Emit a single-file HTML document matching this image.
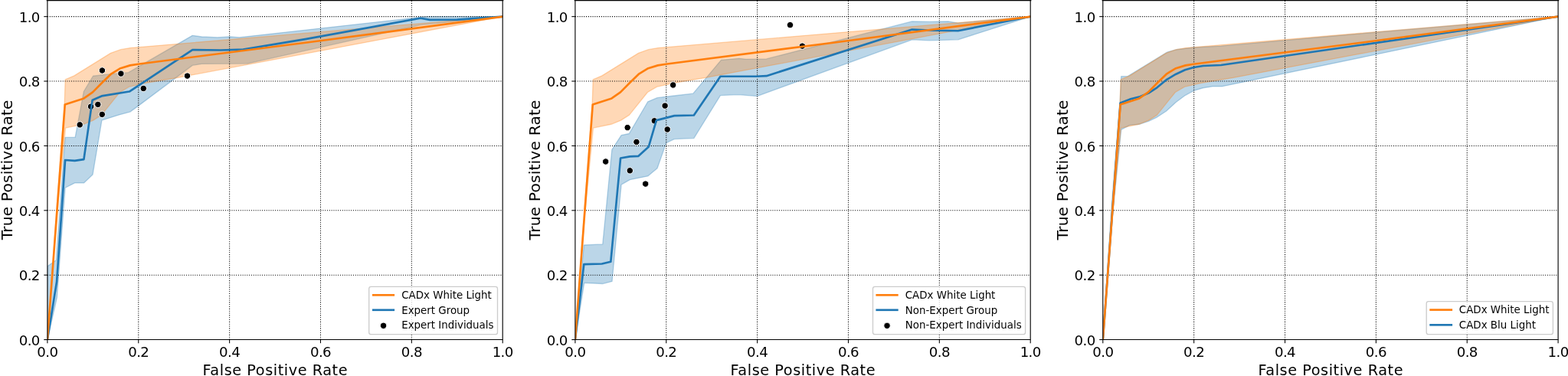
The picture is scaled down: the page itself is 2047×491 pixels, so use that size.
<!DOCTYPE html>
<html><head><meta charset="utf-8"><title>ROC curves</title>
<style>html,body{margin:0;padding:0;background:#fff;width:2047px;height:491px;overflow:hidden}svg{display:block}</style>
</head><body>
<svg width="2047" height="491" viewBox="0 0 2047 491" font-family="'DejaVu Sans', 'Liberation Sans', sans-serif" fill="#000">
<rect width="2047" height="491" fill="#fff"/>
<clipPath id="c0"><rect x="61.9" y="0.85" width="594.3" height="442.7"/></clipPath>
<g clip-path="url(#c0)"><polygon points="61.9,347.78 73.19,339.76 85.08,179.44 98.15,179.44 109.33,119.53 121.51,99.28 139.75,97.17 167.69,94.64 251.24,46.33 263.37,48.02 283.87,48.82 300.21,48.02 312.4,48.82 549.23,22.49 561.11,21.65 656.2,21.65 656.2,21.65 549.23,32.62 322.56,83.04 263.37,83.46 251.24,85.36 181.06,137.88 169.82,146.11 155.56,149.91 139.75,154.97 132.92,157.08 121.03,227.96 109.44,238.93 97.56,238.93 85.08,245.26 74.38,388.7 61.9,443.55" fill="#1f77b4" fill-opacity="0.3" stroke="#1f77b4" stroke-opacity="0.3" stroke-width="1.33" stroke-linejoin="round"/><polygon points="61.9,443.55 73.79,274.79 84.19,136.41 85.2,103.92 96.96,98.86 144.51,69.32 157.58,64.68 169.82,62.57 656.2,21.65 656.2,21.65 232.29,101.39 189.5,108.52 168.58,113.37 156.39,120.46 132.62,150.08 121.63,157.16 108.91,162.27 85.49,167.04 73.79,287.45 61.9,443.55" fill="#ff7f0e" fill-opacity="0.3" stroke="#ff7f0e" stroke-opacity="0.3" stroke-width="1.33" stroke-linejoin="round"/><g stroke="#000" stroke-width="1.07" stroke-dasharray="1.07 1.76"><line x1="180.76" y1="443.55" x2="180.76" y2="0.85"/><line x1="61.9" y1="359.17" x2="656.2" y2="359.17"/><line x1="299.62" y1="443.55" x2="299.62" y2="0.85"/><line x1="61.9" y1="274.79" x2="656.2" y2="274.79"/><line x1="418.48" y1="443.55" x2="418.48" y2="0.85"/><line x1="61.9" y1="190.41" x2="656.2" y2="190.41"/><line x1="537.34" y1="443.55" x2="537.34" y2="0.85"/><line x1="61.9" y1="106.03" x2="656.2" y2="106.03"/><line x1="61.9" y1="21.65" x2="656.2" y2="21.65"/></g><circle cx="104.2" cy="162.9" r="4.2" fill="#000" stroke="#fff" stroke-width="1"/><circle cx="118.6" cy="139.2" r="4.2" fill="#000" stroke="#fff" stroke-width="1"/><circle cx="127.8" cy="136.4" r="4.2" fill="#000" stroke="#fff" stroke-width="1"/><circle cx="133.3" cy="149.4" r="4.2" fill="#000" stroke="#fff" stroke-width="1"/><circle cx="133.4" cy="92" r="4.2" fill="#000" stroke="#fff" stroke-width="1"/><circle cx="157.9" cy="96.1" r="4.2" fill="#000" stroke="#fff" stroke-width="1"/><circle cx="187.3" cy="115.5" r="4.2" fill="#000" stroke="#fff" stroke-width="1"/><circle cx="244.5" cy="99.1" r="4.2" fill="#000" stroke="#fff" stroke-width="1"/><polyline points="61.9,443.55 74.08,367.61 85.08,208.97 97.56,209.82 109.44,208.13 120.62,130.67 132.62,125.44 168.87,119.53 251.24,65.11 287.73,65.53 317.45,64.68 400,50.93 548.87,23.76 561.11,25.87 596.95,25.62 656.2,21.65" fill="none" stroke="#1f77b4" stroke-width="2.67" stroke-linejoin="round" stroke-linecap="square"/><polyline points="61.9,443.55 84.78,136.41 108.85,128.81 121.03,120.37 133.51,107.72 145.4,96.33 156.39,89.58 169.77,85.36 182.01,83.46 400.65,55.53 656.2,21.65" fill="none" stroke="#ff7f0e" stroke-width="2.67" stroke-linejoin="round" stroke-linecap="square"/></g>
<path d="M61.9,0V443.55H656.2V0" fill="none" stroke="#000" stroke-width="1.12" stroke-linecap="square" stroke-linejoin="miter"/>
<line x1="61.6" y1="0.35" x2="656.5" y2="0.35" stroke="#000" stroke-width="1.7" stroke-linecap="square"/>
<g stroke="#000" stroke-width="1.07"><line x1="61.9" y1="443.55" x2="61.9" y2="448.15"/><line x1="57.3" y1="443.55" x2="61.9" y2="443.55"/><line x1="180.76" y1="443.55" x2="180.76" y2="448.15"/><line x1="57.3" y1="359.17" x2="61.9" y2="359.17"/><line x1="299.62" y1="443.55" x2="299.62" y2="448.15"/><line x1="57.3" y1="274.79" x2="61.9" y2="274.79"/><line x1="418.48" y1="443.55" x2="418.48" y2="448.15"/><line x1="57.3" y1="190.41" x2="61.9" y2="190.41"/><line x1="537.34" y1="443.55" x2="537.34" y2="448.15"/><line x1="57.3" y1="106.03" x2="61.9" y2="106.03"/><line x1="656.2" y1="443.55" x2="656.2" y2="448.15"/><line x1="57.3" y1="21.65" x2="61.9" y2="21.65"/></g>
<g font-size="18.2" letter-spacing="-0.6"><text x="61.9" y="465.9" text-anchor="middle">0.0</text><text x="51.8" y="450.65" text-anchor="end">0.0</text><text x="180.76" y="465.9" text-anchor="middle">0.2</text><text x="51.8" y="366.27" text-anchor="end">0.2</text><text x="299.62" y="465.9" text-anchor="middle">0.4</text><text x="51.8" y="281.89" text-anchor="end">0.4</text><text x="418.48" y="465.9" text-anchor="middle">0.6</text><text x="51.8" y="197.51" text-anchor="end">0.6</text><text x="537.34" y="465.9" text-anchor="middle">0.8</text><text x="51.8" y="113.13" text-anchor="end">0.8</text><text x="656.2" y="465.9" text-anchor="middle">1.0</text><text x="51.8" y="28.75" text-anchor="end">1.0</text></g>
<text x="359.32" y="489.9" font-size="19.3" letter-spacing="0.55" text-anchor="middle">False Positive Rate</text>
<text x="15.8" y="221.85" font-size="20.2" letter-spacing="0.18" text-anchor="middle" transform="rotate(-90 15.8 221.85)">True Positive Rate</text>
<rect x="481.7" y="374.4" width="167.8" height="62.2" rx="2.7" ry="2.7" fill="#fff" fill-opacity="0.8" stroke="#cccccc" stroke-width="1.33"/>
<line x1="486" y1="385.3" x2="515.1" y2="385.3" stroke="#ff7f0e" stroke-width="2.67"/>
<text x="524.2" y="390" font-size="13.4">CADx White Light</text>
<line x1="486" y1="404.8" x2="515.1" y2="404.8" stroke="#1f77b4" stroke-width="2.67"/>
<text x="524.2" y="409.5" font-size="13.4">Expert Group</text>
<circle cx="500.55" cy="425.3" r="4.2" fill="#000" stroke="#fff" stroke-width="1"/>
<text x="524.2" y="429.2" font-size="13.4">Expert Individuals</text>
<clipPath id="c1"><rect x="750.9" y="0.85" width="594.3" height="442.7"/></clipPath>
<g clip-path="url(#c1)"><polygon points="750.9,443.55 762.31,319.98 786.74,318.96 798.92,195.3 811.1,176.57 821.32,174.5 845.75,132.78 858.05,127.67 880.34,124.97 904.82,122.15 941.49,78.35 953.79,77.34 964.97,76.33 974.06,77.34 1000.57,76.92 1190.68,27.98 1213.27,28.4 1237.63,27.98 1250.71,30.09 1345.2,21.65 1345.2,21.65 1250.71,51.82 1213.27,52.87 1190.68,51.82 988.38,125.56 963.9,123.58 940.48,124.55 905.83,180.58 880.34,181.59 869.76,186.61 858.05,219.73 845.75,229.94 822.33,234.63 811.1,241.12 799.04,367.4 786.74,370.52 762.73,369.42 750.9,443.55" fill="#1f77b4" fill-opacity="0.3" stroke="#1f77b4" stroke-opacity="0.3" stroke-width="1.33" stroke-linejoin="round"/><polygon points="750.9,443.55 762.79,274.79 773.19,136.41 774.2,103.92 785.96,98.86 833.51,69.32 846.58,64.68 858.82,62.57 1345.2,21.65 1345.2,21.65 921.29,101.39 878.5,108.52 857.58,113.37 845.39,120.46 821.62,150.08 810.63,157.16 797.91,162.27 774.49,167.04 762.79,287.45 750.9,443.55" fill="#ff7f0e" fill-opacity="0.3" stroke="#ff7f0e" stroke-opacity="0.3" stroke-width="1.33" stroke-linejoin="round"/><g stroke="#000" stroke-width="1.07" stroke-dasharray="1.07 1.76"><line x1="869.76" y1="443.55" x2="869.76" y2="0.85"/><line x1="750.9" y1="359.17" x2="1345.2" y2="359.17"/><line x1="988.62" y1="443.55" x2="988.62" y2="0.85"/><line x1="750.9" y1="274.79" x2="1345.2" y2="274.79"/><line x1="1107.48" y1="443.55" x2="1107.48" y2="0.85"/><line x1="750.9" y1="190.41" x2="1345.2" y2="190.41"/><line x1="1226.34" y1="443.55" x2="1226.34" y2="0.85"/><line x1="750.9" y1="106.03" x2="1345.2" y2="106.03"/><line x1="750.9" y1="21.65" x2="1345.2" y2="21.65"/></g><circle cx="878.7" cy="111" r="4.2" fill="#000" stroke="#fff" stroke-width="1"/><circle cx="868.1" cy="138.1" r="4.2" fill="#000" stroke="#fff" stroke-width="1"/><circle cx="854.3" cy="157.8" r="4.2" fill="#000" stroke="#fff" stroke-width="1"/><circle cx="819.2" cy="166.6" r="4.2" fill="#000" stroke="#fff" stroke-width="1"/><circle cx="871.2" cy="169" r="4.2" fill="#000" stroke="#fff" stroke-width="1"/><circle cx="830.9" cy="185.4" r="4.2" fill="#000" stroke="#fff" stroke-width="1"/><circle cx="790.7" cy="211" r="4.2" fill="#000" stroke="#fff" stroke-width="1"/><circle cx="822.3" cy="222.8" r="4.2" fill="#000" stroke="#fff" stroke-width="1"/><circle cx="842.7" cy="240.1" r="4.2" fill="#000" stroke="#fff" stroke-width="1"/><circle cx="1031.5" cy="32.6" r="4.2" fill="#000" stroke="#fff" stroke-width="1"/><circle cx="1047.4" cy="60.1" r="4.2" fill="#000" stroke="#fff" stroke-width="1"/><polyline points="750.9,443.55 762.31,345.08 785.73,344.49 797.31,341.79 810.09,206.53 822.33,204.42 833.51,203.83 846.7,191.8 856.92,157.16 880.34,151.09 905.83,150.5 940.48,99.74 987.37,99.74 1000.57,99.15 1190.68,38.53 1219.21,39.79 1250.71,40.21 1345.2,21.65" fill="none" stroke="#1f77b4" stroke-width="2.67" stroke-linejoin="round" stroke-linecap="square"/><polyline points="750.9,443.55 773.78,136.41 797.85,128.81 810.03,120.37 822.51,107.72 834.4,96.33 845.39,89.58 858.77,85.36 871.01,83.46 1089.65,55.53 1345.2,21.65" fill="none" stroke="#ff7f0e" stroke-width="2.67" stroke-linejoin="round" stroke-linecap="square"/></g>
<path d="M750.9,0V443.55H1345.2V0" fill="none" stroke="#000" stroke-width="1.12" stroke-linecap="square" stroke-linejoin="miter"/>
<line x1="750.6" y1="0.35" x2="1345.5" y2="0.35" stroke="#000" stroke-width="1.7" stroke-linecap="square"/>
<g stroke="#000" stroke-width="1.07"><line x1="750.9" y1="443.55" x2="750.9" y2="448.15"/><line x1="746.3" y1="443.55" x2="750.9" y2="443.55"/><line x1="869.76" y1="443.55" x2="869.76" y2="448.15"/><line x1="746.3" y1="359.17" x2="750.9" y2="359.17"/><line x1="988.62" y1="443.55" x2="988.62" y2="448.15"/><line x1="746.3" y1="274.79" x2="750.9" y2="274.79"/><line x1="1107.48" y1="443.55" x2="1107.48" y2="448.15"/><line x1="746.3" y1="190.41" x2="750.9" y2="190.41"/><line x1="1226.34" y1="443.55" x2="1226.34" y2="448.15"/><line x1="746.3" y1="106.03" x2="750.9" y2="106.03"/><line x1="1345.2" y1="443.55" x2="1345.2" y2="448.15"/><line x1="746.3" y1="21.65" x2="750.9" y2="21.65"/></g>
<g font-size="18.2" letter-spacing="-0.6"><text x="750.9" y="465.9" text-anchor="middle">0.0</text><text x="740.8" y="450.65" text-anchor="end">0.0</text><text x="869.76" y="465.9" text-anchor="middle">0.2</text><text x="740.8" y="366.27" text-anchor="end">0.2</text><text x="988.62" y="465.9" text-anchor="middle">0.4</text><text x="740.8" y="281.89" text-anchor="end">0.4</text><text x="1107.48" y="465.9" text-anchor="middle">0.6</text><text x="740.8" y="197.51" text-anchor="end">0.6</text><text x="1226.34" y="465.9" text-anchor="middle">0.8</text><text x="740.8" y="113.13" text-anchor="end">0.8</text><text x="1345.2" y="465.9" text-anchor="middle">1.0</text><text x="740.8" y="28.75" text-anchor="end">1.0</text></g>
<text x="1048.32" y="489.9" font-size="19.3" letter-spacing="0.55" text-anchor="middle">False Positive Rate</text>
<text x="704.8" y="221.85" font-size="20.2" letter-spacing="0.18" text-anchor="middle" transform="rotate(-90 704.8 221.85)">True Positive Rate</text>
<rect x="1139.5" y="374.4" width="199.1" height="62.2" rx="2.7" ry="2.7" fill="#fff" fill-opacity="0.8" stroke="#cccccc" stroke-width="1.33"/>
<line x1="1143.4" y1="385.3" x2="1172.7" y2="385.3" stroke="#ff7f0e" stroke-width="2.67"/>
<text x="1181.75" y="390" font-size="13.4">CADx White Light</text>
<line x1="1143.4" y1="404.8" x2="1172.7" y2="404.8" stroke="#1f77b4" stroke-width="2.67"/>
<text x="1181.75" y="409.5" font-size="13.4">Non-Expert Group</text>
<circle cx="1158.05" cy="425.3" r="4.2" fill="#000" stroke="#fff" stroke-width="1"/>
<text x="1181.75" y="429.2" font-size="13.4">Non-Expert Individuals</text>
<clipPath id="c2"><rect x="1439.8" y="0.85" width="594.3" height="442.7"/></clipPath>
<g clip-path="url(#c2)"><polygon points="1439.8,443.55 1451.69,262.13 1462.09,135.56 1463.69,99.7 1471.89,99.7 1523.72,68.14 1536.08,64.73 1558.42,62.03 1594.08,60.04 1738.32,47.22 2034.1,21.65 2034.1,21.65 1595.03,112.95 1582.85,112.95 1570.66,114.76 1558.42,118.48 1547.25,124.59 1534.89,133.75 1522.7,144.97 1510.52,153.07 1499.35,158.35 1487.11,162.27 1474.86,163.41 1463.69,169.31 1451.69,287.45 1439.8,443.55" fill="#1f77b4" fill-opacity="0.3" stroke="#1f77b4" stroke-opacity="0.3" stroke-width="1.33" stroke-linejoin="round"/><polygon points="1439.8,443.55 1451.69,274.79 1462.09,136.41 1463.1,103.92 1474.86,98.86 1522.41,69.32 1535.48,64.68 1547.72,62.57 2034.1,21.65 2034.1,21.65 1610.19,101.39 1567.4,108.52 1546.48,113.37 1534.29,120.46 1510.52,150.08 1499.53,157.16 1486.81,162.27 1463.39,167.04 1451.69,287.45 1439.8,443.55" fill="#ff7f0e" fill-opacity="0.3" stroke="#ff7f0e" stroke-opacity="0.3" stroke-width="1.33" stroke-linejoin="round"/><g stroke="#000" stroke-width="1.07" stroke-dasharray="1.07 1.76"><line x1="1558.66" y1="443.55" x2="1558.66" y2="0.85"/><line x1="1439.8" y1="359.17" x2="2034.1" y2="359.17"/><line x1="1677.52" y1="443.55" x2="1677.52" y2="0.85"/><line x1="1439.8" y1="274.79" x2="2034.1" y2="274.79"/><line x1="1796.38" y1="443.55" x2="1796.38" y2="0.85"/><line x1="1439.8" y1="190.41" x2="2034.1" y2="190.41"/><line x1="1915.24" y1="443.55" x2="1915.24" y2="0.85"/><line x1="1439.8" y1="106.03" x2="2034.1" y2="106.03"/><line x1="1439.8" y1="21.65" x2="2034.1" y2="21.65"/></g><polyline points="1439.8,443.55 1462.62,134.38 1474.92,129.66 1487.11,126.66 1499.35,121.56 1510.52,114.34 1522.7,104.26 1534.89,96.92 1547.07,91.22 1558.48,88.01 1570.61,86.03 1594.08,85.02 2034.1,21.65" fill="none" stroke="#1f77b4" stroke-width="2.67" stroke-linejoin="round" stroke-linecap="square"/><polyline points="1439.8,443.55 1462.68,136.41 1486.75,128.81 1498.93,120.37 1511.41,107.72 1523.3,96.33 1534.29,89.58 1547.67,85.36 1559.91,83.46 1778.55,55.53 2034.1,21.65" fill="none" stroke="#ff7f0e" stroke-width="2.67" stroke-linejoin="round" stroke-linecap="square"/></g>
<path d="M1439.8,0V443.55H2034.1V0" fill="none" stroke="#000" stroke-width="1.12" stroke-linecap="square" stroke-linejoin="miter"/>
<line x1="1439.5" y1="0.35" x2="2034.4" y2="0.35" stroke="#000" stroke-width="1.7" stroke-linecap="square"/>
<g stroke="#000" stroke-width="1.07"><line x1="1439.8" y1="443.55" x2="1439.8" y2="448.15"/><line x1="1435.2" y1="443.55" x2="1439.8" y2="443.55"/><line x1="1558.66" y1="443.55" x2="1558.66" y2="448.15"/><line x1="1435.2" y1="359.17" x2="1439.8" y2="359.17"/><line x1="1677.52" y1="443.55" x2="1677.52" y2="448.15"/><line x1="1435.2" y1="274.79" x2="1439.8" y2="274.79"/><line x1="1796.38" y1="443.55" x2="1796.38" y2="448.15"/><line x1="1435.2" y1="190.41" x2="1439.8" y2="190.41"/><line x1="1915.24" y1="443.55" x2="1915.24" y2="448.15"/><line x1="1435.2" y1="106.03" x2="1439.8" y2="106.03"/><line x1="2034.1" y1="443.55" x2="2034.1" y2="448.15"/><line x1="1435.2" y1="21.65" x2="1439.8" y2="21.65"/></g>
<g font-size="18.2" letter-spacing="-0.6"><text x="1439.8" y="465.9" text-anchor="middle">0.0</text><text x="1429.7" y="450.65" text-anchor="end">0.0</text><text x="1558.66" y="465.9" text-anchor="middle">0.2</text><text x="1429.7" y="366.27" text-anchor="end">0.2</text><text x="1677.52" y="465.9" text-anchor="middle">0.4</text><text x="1429.7" y="281.89" text-anchor="end">0.4</text><text x="1796.38" y="465.9" text-anchor="middle">0.6</text><text x="1429.7" y="197.51" text-anchor="end">0.6</text><text x="1915.24" y="465.9" text-anchor="middle">0.8</text><text x="1429.7" y="113.13" text-anchor="end">0.8</text><text x="2034.1" y="465.9" text-anchor="middle">1.0</text><text x="1429.7" y="28.75" text-anchor="end">1.0</text></g>
<text x="1737.22" y="489.9" font-size="19.3" letter-spacing="0.55" text-anchor="middle">False Positive Rate</text>
<text x="1393.7" y="221.85" font-size="20.2" letter-spacing="0.18" text-anchor="middle" transform="rotate(-90 1393.7 221.85)">True Positive Rate</text>
<rect x="1862.2" y="393.7" width="165.2" height="43" rx="2.7" ry="2.7" fill="#fff" fill-opacity="0.8" stroke="#cccccc" stroke-width="1.33"/>
<line x1="1866.3" y1="404.6" x2="1896.1" y2="404.6" stroke="#ff7f0e" stroke-width="2.67"/>
<text x="1904.85" y="409.3" font-size="13.4">CADx White Light</text>
<line x1="1866.3" y1="424.3" x2="1896.1" y2="424.3" stroke="#1f77b4" stroke-width="2.67"/>
<text x="1904.85" y="429" font-size="13.4">CADx Blu Light</text>
</svg>
</body></html>
